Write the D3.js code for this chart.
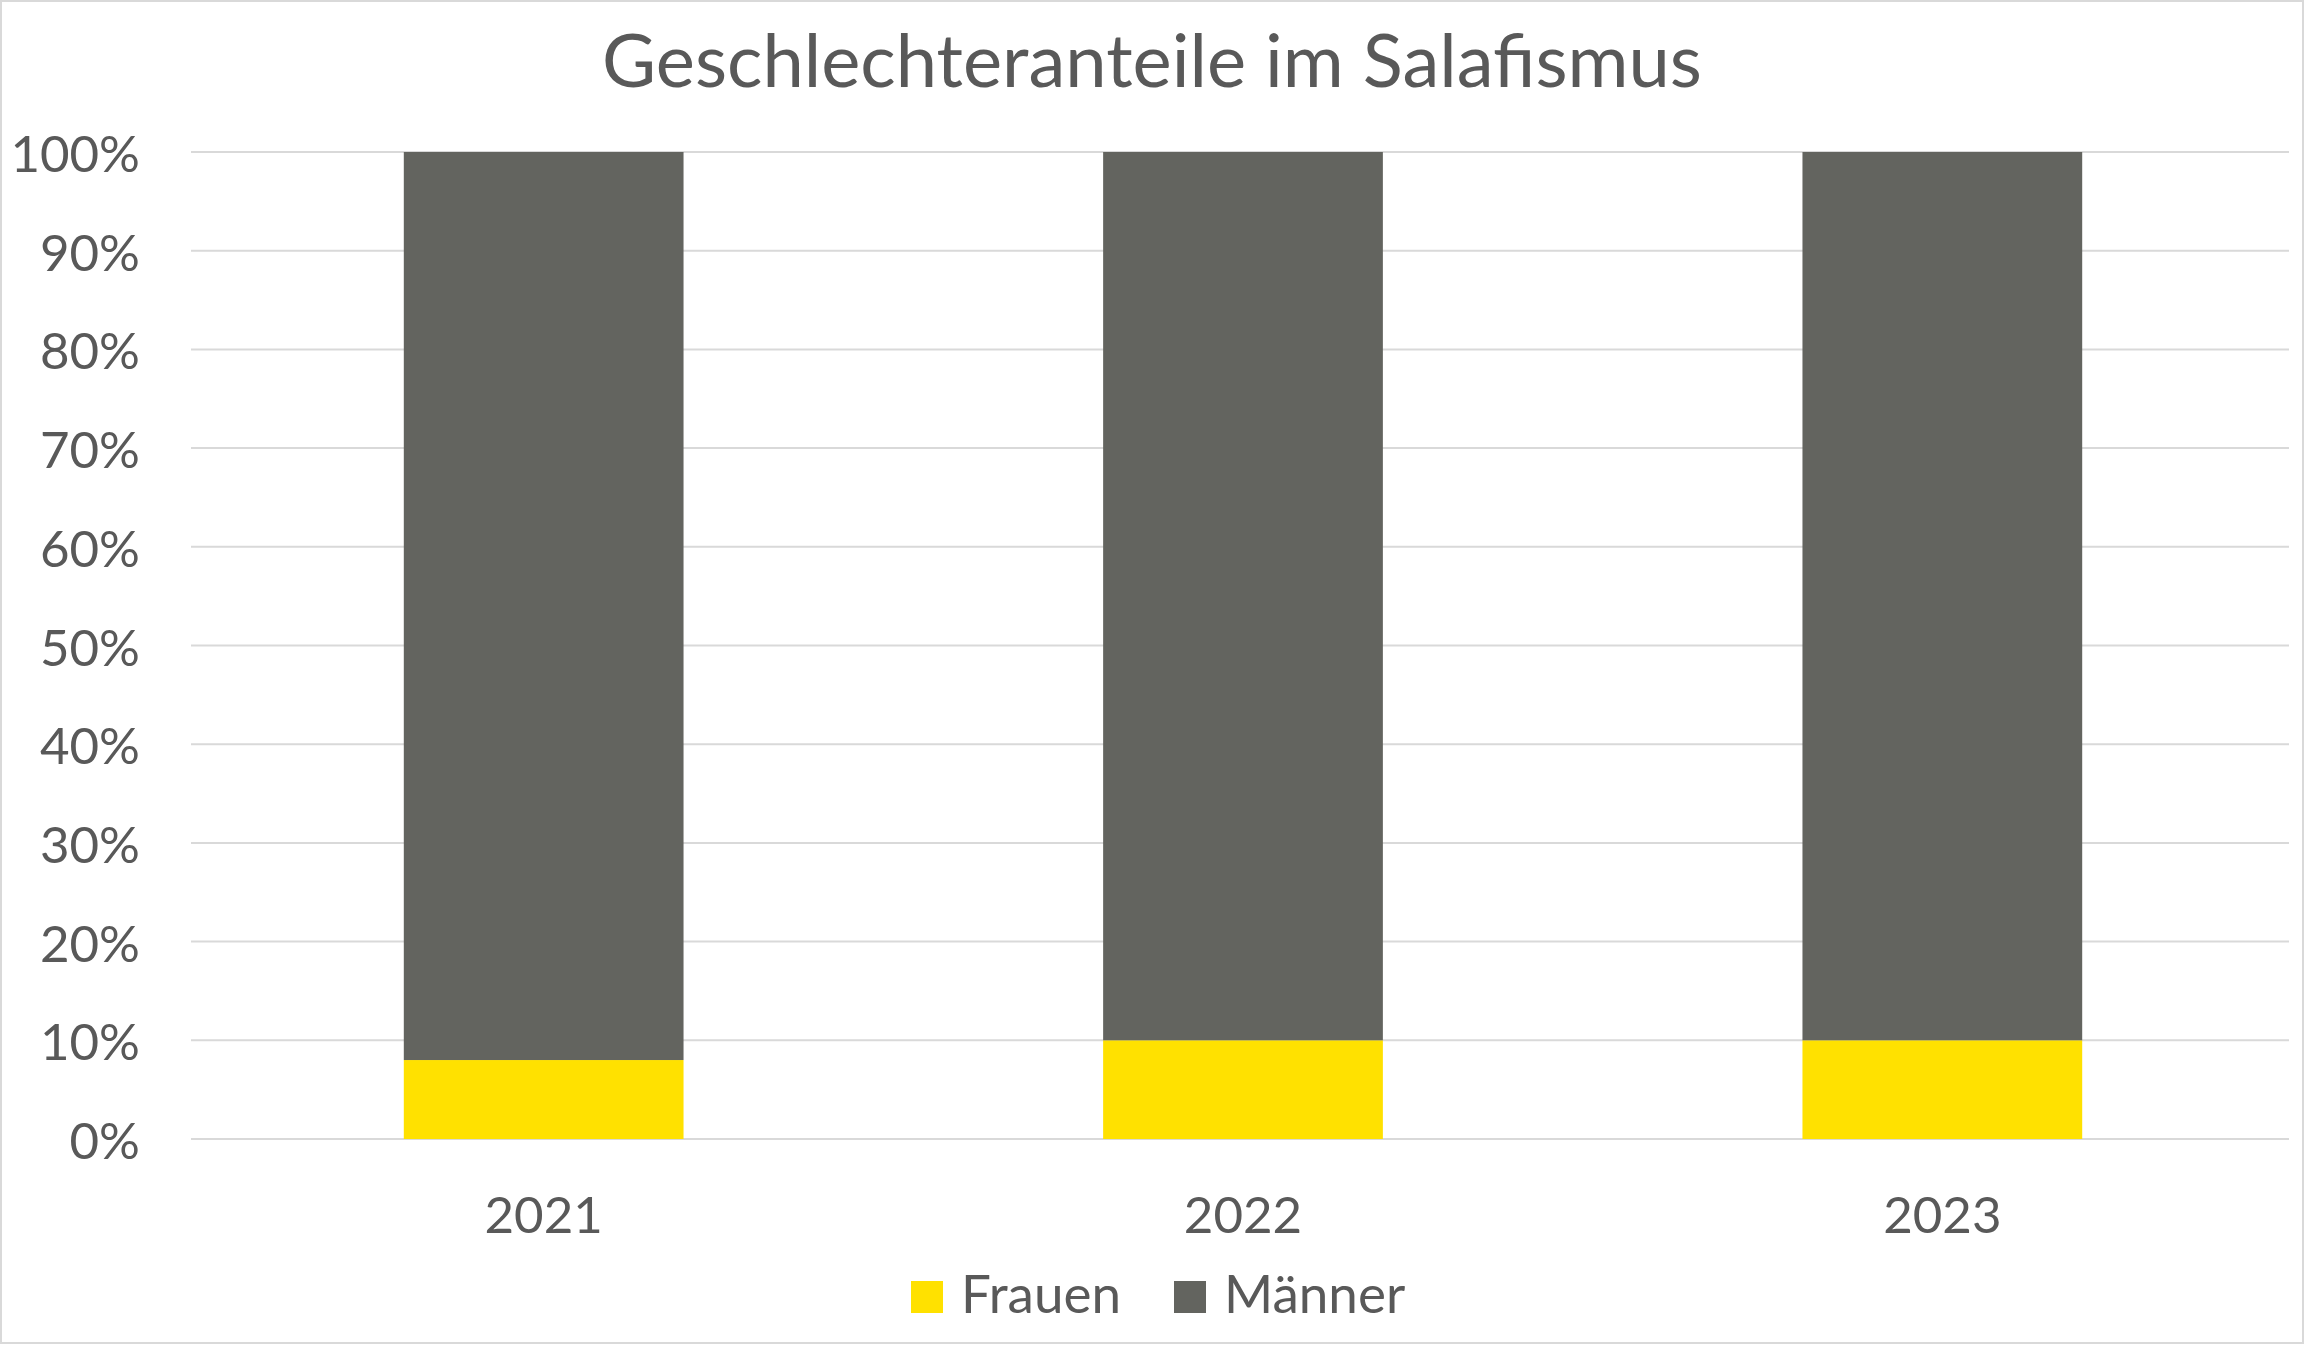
<!DOCTYPE html>
<html><head><meta charset="utf-8">
<script src="https://cdn.jsdelivr.net/npm/d3@7"></script>
<style>html,body{margin:0;padding:0;background:#fff;}svg{display:block;}</style>
</head><body>
<script>
const years = ["2021", "2022", "2023"];
const seriesNames = ["Frauen", "Männer"];
const frauen = [0.08, 0.10, 0.10];
const maenner = [0.92, 0.90, 0.90];
const yTicks = [0, 0.1, 0.2, 0.3, 0.4, 0.5, 0.6, 0.7, 0.8, 0.9, 1.0];
const colors = ["#FFE100", "#63645F"];
const title = "Geschlechteranteile im Salafismus";

const W = 2305, H = 1345;
const font = "Lato, 'Open Sans', sans-serif";
const textColor = "#595959";
const svg = d3.select("body").append("svg").attr("width", W).attr("height", H);

svg.append("rect").attr("x", 1).attr("y", 1).attr("width", W - 3).attr("height", H - 3)
  .attr("fill", "#fff").attr("stroke", "#d9d9d9").attr("stroke-width", 2);

const x = d3.scaleBand().domain(years).range([194, 2292]).paddingInner(0.6).paddingOuter(0.3);
const y = d3.scaleLinear().domain([0, 1]).range([1139, 152]);

// gridlines
svg.append("g").selectAll("line").data(yTicks).join("line")
  .attr("x1", 191).attr("x2", 2289)
  .attr("y1", d => y(d)).attr("y2", d => y(d))
  .attr("stroke", "#d9d9d9").attr("stroke-width", 2);

// stacked data
const table = years.map((yr, i) => ({year: yr, Frauen: frauen[i], "Männer": maenner[i]}));
const stack = d3.stack().keys(seriesNames)(table);
svg.append("g").selectAll("g").data(stack).join("g")
  .attr("fill", (d, i) => colors[i])
  .selectAll("rect").data(d => d).join("rect")
  .attr("x", d => x(d.data.year))
  .attr("width", x.bandwidth())
  .attr("y", d => y(d[1]))
  .attr("height", d => y(d[0]) - y(d[1]));

// y axis labels
const yAxis = d3.axisLeft(y).tickValues(yTicks).tickFormat(d3.format(".0%")).tickSize(0).tickPadding(0);
const ya = svg.append("g").attr("transform", "translate(140,0)").call(yAxis);
ya.select(".domain").remove();
ya.selectAll("text").attr("font-family", font).attr("font-size", 51).attr("fill", textColor)
  .attr("dy", null).attr("dominant-baseline", "central");

// x axis labels
const xAxis = d3.axisBottom(x).tickSize(0).tickPadding(0);
const xa = svg.append("g").attr("transform", "translate(0,1233)").call(xAxis);
xa.select(".domain").remove();
xa.selectAll("text").attr("font-family", font).attr("font-size", 51).attr("fill", textColor)
  .attr("dy", null).attr("y", 0);

// title
const t = svg.append("text").attr("x", 1152).attr("y", 87).attr("text-anchor", "middle")
  .attr("font-family", font).attr("font-size", 72).attr("fill", textColor).text(title);
const tw = t.node().getComputedTextLength();
t.attr("font-size", 72 * 1100 / tw);

// legend
const legendX = [911, 1174];
const lg = svg.append("g");
seriesNames.forEach((name, i) => {
  lg.append("rect").attr("x", legendX[i]).attr("y", 1281).attr("width", 32).attr("height", 32).attr("fill", colors[i]);
  lg.append("text").attr("x", legendX[i] + 50).attr("y", 1313).attr("font-family", font)
    .attr("font-size", 53).attr("fill", textColor).text(name);
});
</script>
</body></html>
